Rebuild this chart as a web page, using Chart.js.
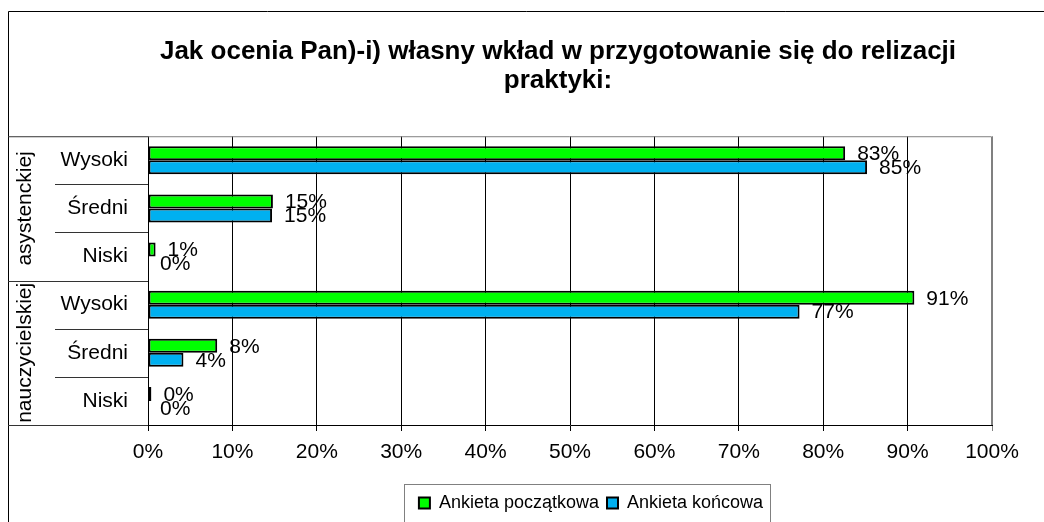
<!DOCTYPE html>
<html>
<head>
<meta charset="utf-8">
<title>Jak ocenia Pan(-i) własny wkład</title>
<script src="https://cdn.jsdelivr.net/npm/chart.js@4.4.0/dist/chart.umd.min.js"></script>
<style>
  html, body { margin: 0; padding: 0; background: #fff; }
  #wrap { width: 1044px; height: 522px; position: relative; }
</style>
</head>
<body>
<div id="wrap"><canvas id="chart"></canvas></div>
<script>
// data
var titleLines = ['Jak ocenia Pan)-i) własny wkład w przygotowanie się do relizacji', 'praktyki:'];
var categories = ['Wysoki', 'Średni', 'Niski', 'Wysoki', 'Średni', 'Niski'];
var groups = ['asystenckiej', 'nauczycielskiej'];
var groupSize = 3;
var seriesNames = ['Ankieta początkowa', 'Ankieta końcowa'];
var poczatkowa = [82.6, 14.8, 0.9, 90.8, 8.2, 0.4];
var koncowa = [85.2, 14.7, 0, 77.2, 4.2, 0];
var xMax = 100;
var xStep = 10;

var FONT = "'Liberation Sans', Arial, sans-serif";
var GREEN = '#00ff00';
var BLUE = '#00b0f0';

// move title / legend sideways, they sit right of centre in the original
var shiftBoxes = {
    id: 'shiftBoxes',
    afterLayout: function(chart) {
        var t = chart.titleBlock;
        if (t) { t.left += 58; t.right += 58; }
        var l = chart.legend;
        if (l) { l.left += 91; l.right += 91; }
    }
};

// frame, two-level category lines, group names, legend box
var decor = {
    id: 'decor',
    afterDraw: function(chart) {
        var ctx = chart.ctx;
        var a = chart.chartArea;
        var y = chart.scales.y;
        ctx.save();
        ctx.lineWidth = 1;

        // outer frame
        ctx.strokeStyle = '#000';
        ctx.beginPath();
        ctx.moveTo(8.5, 522);
        ctx.lineTo(8.5, 11.5);
        ctx.lineTo(1044, 11.5);
        ctx.stroke();

        // plot border top / right
        ctx.strokeStyle = '#808080';
        ctx.beginPath();
        ctx.moveTo(a.left, a.top + 0.5);
        ctx.lineTo(a.right - 0.5, a.top + 0.5);
        ctx.lineTo(a.right - 0.5, a.bottom);
        ctx.stroke();

        // label area lines
        ctx.strokeStyle = '#333';
        ctx.beginPath();
        ctx.moveTo(8, a.top + 0.5);
        ctx.lineTo(a.left, a.top + 0.5);
        ctx.moveTo(8, a.bottom + 0.5);
        ctx.lineTo(a.left, a.bottom + 0.5);
        for (var i = 1; i < categories.length; i++) {
            var yy = Math.round((y.getPixelForValue(i - 1) + y.getPixelForValue(i)) / 2) + 0.5;
            var x0 = (i % groupSize === 0) ? 8 : 55;
            ctx.moveTo(x0, yy);
            ctx.lineTo(a.left, yy);
        }
        ctx.stroke();

        // group names, rotated
        ctx.fillStyle = '#000';
        ctx.font = '21px ' + FONT;
        ctx.textAlign = 'center';
        ctx.textBaseline = 'middle';
        groups.forEach(function(g, k) {
            var y1 = y.getPixelForValue(k * groupSize);
            var y2 = y.getPixelForValue(k * groupSize + groupSize - 1);
            ctx.save();
            ctx.translate(25, (y1 + y2) / 2);
            ctx.rotate(-Math.PI / 2);
            ctx.fillText(g, 0, 0);
            ctx.restore();
        });

        // box round the legend
        var lg = chart.legend;
        if (lg && lg.lineWidths) {
            var pad = lg.options.labels.padding;
            var lw = lg.lineWidths[0];
            var start = (lg.left + pad + lg.right - lw) / 2;
            var end = start + lw - pad;
            ctx.strokeStyle = '#808080';
            ctx.strokeRect(Math.round(start - 15) + 0.5, 484.5, Math.round(end - start + 22), 40);
        }
        ctx.restore();
    }
};

// percentage labels at bar ends
var valueLabels = {
    id: 'valueLabels',
    afterDatasetsDraw: function(chart) {
        var ctx = chart.ctx;
        ctx.save();
        ctx.font = '21px ' + FONT;
        ctx.fillStyle = '#000';
        ctx.textAlign = 'left';
        ctx.textBaseline = 'middle';
        chart.data.datasets.forEach(function(ds, i) {
            var meta = chart.getDatasetMeta(i);
            meta.data.forEach(function(bar, j) {
                ctx.fillText(Math.round(ds.data[j]) + '%', bar.x + 12, bar.y + 1);
            });
        });
        ctx.restore();
    }
};

var chart = new Chart(document.getElementById('chart'), {
    type: 'bar',
    data: {
        labels: categories,
        datasets: [{
            label: seriesNames[0],
            data: poczatkowa,
            backgroundColor: GREEN,
            borderColor: '#000',
            borderWidth: 2,
            borderSkipped: false,
            categoryPercentage: 0.58,
            barPercentage: 1
        }, {
            label: seriesNames[1],
            data: koncowa,
            backgroundColor: BLUE,
            borderColor: '#000',
            borderWidth: 2,
            borderSkipped: false,
            categoryPercentage: 0.58,
            barPercentage: 1
        }]
    },
    options: {
        indexAxis: 'y',
        responsive: true,
        maintainAspectRatio: false,
        animation: false,
        layout: { padding: { left: 8, right: 52, top: 12, bottom: 0 } },
        plugins: {
            title: {
                display: true,
                text: titleLines,
                color: '#000',
                font: { family: FONT, size: 26, weight: 'bold', lineHeight: 1.12 },
                padding: { top: 25, bottom: 41 }
            },
            legend: {
                display: true,
                position: 'bottom',
                labels: {
                    color: '#000',
                    font: { family: FONT, size: 18 },
                    boxWidth: 11,
                    boxHeight: 11,
                    padding: 8
                }
            },
            tooltip: { enabled: false }
        },
        scales: {
            x: {
                min: 0,
                max: xMax,
                afterFit: function(scale) { scale.height = 61; },
                ticks: {
                    stepSize: xStep,
                    color: '#000',
                    padding: 9,
                    font: { family: FONT, size: 21 },
                    callback: function(v) { return v + '%'; }
                },
                grid: {
                    color: function(c) { return c.tick && c.tick.value === xMax ? '#808080' : '#000'; },
                    lineWidth: 1,
                    tickLength: 6
                },
                border: { display: true, color: '#000', width: 1 }
            },
            y: {
                afterFit: function(scale) { scale.width = 140; },
                ticks: {
                    color: '#000',
                    padding: 20,
                    font: { family: FONT, size: 21 }
                },
                grid: { display: false, drawTicks: false },
                border: { display: true, color: '#000', width: 1 }
            }
        }
    },
    plugins: [shiftBoxes, decor, valueLabels]
});
</script>
</body>
</html>
